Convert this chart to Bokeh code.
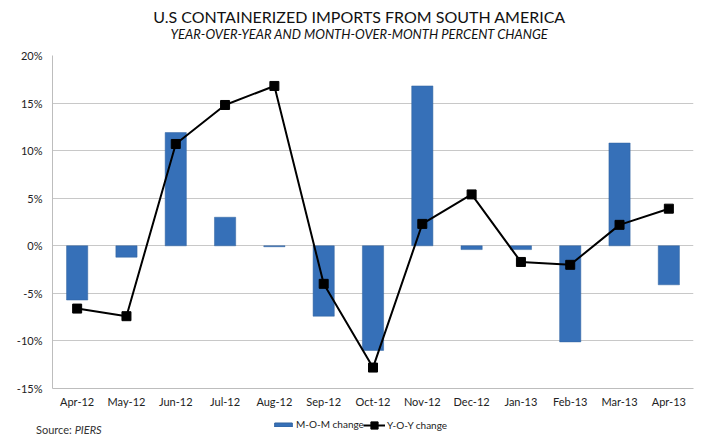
from bokeh.plotting import figure
from bokeh.layouts import column
from bokeh.models import (FactorRange, Range1d, PrintfTickFormatter, FixedTicker,
                          Legend, LegendItem, Label, ColumnDataSource, Div)
from bokeh.embed import file_html
from bokeh.resources import INLINE

months = ["Apr-12", "May-12", "Jun-12", "Jul-12", "Aug-12", "Sep-12", "Oct-12",
          "Nov-12", "Dec-12", "Jan-13", "Feb-13", "Mar-13", "Apr-13"]
mom_change = [-5.7, -1.2, 11.9, 3.0, -0.1, -7.4, -11.0, 16.8, -0.4, -0.4, -10.1, 10.8, -4.1]
yoy_change = [-6.6, -7.4, 10.7, 14.8, 16.8, -4.0, -12.8, 2.3, 5.4, -1.7, -2.0, 2.2, 3.9]
y_ticks = [-15, -10, -5, 0, 5, 10, 15, 20]

title_text = "U.S CONTAINERIZED IMPORTS FROM SOUTH AMERICA"
subtitle_text = "YEAR-OVER-YEAR AND MONTH-OVER-MONTH PERCENT CHANGE"
source_prefix = "Source: "
source_name = "PIERS"
legend_labels = ["M-O-M change", "Y-O-Y change"]

FONT = "Lato"
W = 709
BAR_FILL = "#3670b8"
BAR_LINE = "#30639f"

src = ColumnDataSource(dict(m=months, mom=mom_change, yoy=yoy_change))
x_range = FactorRange(*months, range_padding=0)


def blank(height):
    f = figure(width=W, height=height, output_backend="svg", toolbar_location=None,
               x_range=x_range, y_range=Range1d(-15, 20),
               x_axis_location=None, y_axis_location=None,
               min_border_left=0, min_border_right=0, min_border_top=0, min_border_bottom=0)
    f.title = None
    f.outline_line_color = None
    f.xgrid.visible = False
    f.ygrid.visible = False
    return f


# ---- header (title + subtitle); frame is aligned with the chart frame (left = 52) ----
top = blank(47)
top.add_layout(Label(x=307, y=31, x_units="screen", y_units="screen", text=title_text,
                     text_font=FONT, text_font_size="16px", text_color="#111111",
                     text_align="center", text_baseline="middle"))
top.add_layout(Label(x=307, y=14, x_units="screen", y_units="screen", text=subtitle_text,
                     text_font=FONT, text_font_size="13px", text_font_style="italic",
                     text_color="#111111", text_align="center", text_baseline="middle"))

# ---- main chart ----
p = figure(x_range=x_range, y_range=Range1d(-15, 20),
           width=W, height=363, output_backend="svg", toolbar_location=None,
           min_border_left=52, min_border_right=16, min_border_top=8, min_border_bottom=20)
p.title = None
p.outline_line_color = None

p.vbar(x="m", top="mom", bottom=0, width=0.43, source=src,
       fill_color=BAR_FILL, line_color=BAR_LINE, line_width=0.5)
p.line(x="m", y="yoy", source=src, line_color="black", line_width=2)
p.scatter(x="m", y="yoy", source=src, marker="square", size=9,
          fill_color="black", line_color="black")

p.yaxis.ticker = FixedTicker(ticks=y_ticks)
p.yaxis.formatter = PrintfTickFormatter(format="%d%%")
for ax in (p.xaxis, p.yaxis):
    ax.axis_line_color = "#bdbdbd"
    ax.major_tick_line_color = None
    ax.minor_tick_line_color = None
    ax.major_tick_out = 0
    ax.major_tick_in = 0
    ax.minor_tick_out = 0
    ax.minor_tick_in = 0
    ax.major_label_text_font = FONT
    ax.major_label_text_font_size = "11px"
    ax.major_label_text_color = "#222222"
p.xaxis.major_label_standoff = 6
p.yaxis.major_label_standoff = 10
p.xgrid.grid_line_color = None
p.ygrid.ticker = FixedTicker(ticks=y_ticks)
p.ygrid.grid_line_color = "#c8c8c8"
p.ygrid.grid_line_width = 1

# ---- footer (legend) ----
foot = blank(28)
lb = foot.vbar(x="m", top="mom", bottom=0, width=0.43, source=src, visible=False,
               fill_color=BAR_FILL, line_color=BAR_LINE)
ll = foot.line(x="m", y="yoy", source=src, visible=False, line_color="black", line_width=2)
lm = foot.scatter(x="m", y="yoy", source=src, visible=False, marker="square", size=9,
                  fill_color="black", line_color="black")
common = dict(orientation="horizontal", border_line_color=None, background_fill_alpha=0,
              label_text_font=FONT, label_text_font_size="10px", label_text_color="#222222",
              glyph_width=22, padding=0, margin=0, spacing=0, label_standoff=2,
              inactive_fill_alpha=0, click_policy="none")
leg1 = Legend(items=[LegendItem(label=legend_labels[0], renderers=[lb])],
              location=(220, 8), glyph_height=5, label_height=10, **common)
leg2 = Legend(items=[LegendItem(label=legend_labels[1], renderers=[ll, lm])],
              location=(311, 4), glyph_height=18, label_height=18, **common)
foot.add_layout(leg1, "center")
foot.add_layout(leg2, "center")

src_html = (f'<span style="font-family:{FONT};font-size:11px;color:#333333;'
            f'line-height:12px;white-space:nowrap">{source_prefix}<i>{source_name}</i></span>')
src_div = Div(text=src_html, width=120, height=0,
              styles={"margin-top": "-14px", "margin-left": "36px", "overflow": "visible",
                      "line-height": "12px", "white-space": "nowrap"})

layout = column(top, p, foot, src_div, spacing=0)
open("out.html", "w").write(file_html(layout, INLINE))
